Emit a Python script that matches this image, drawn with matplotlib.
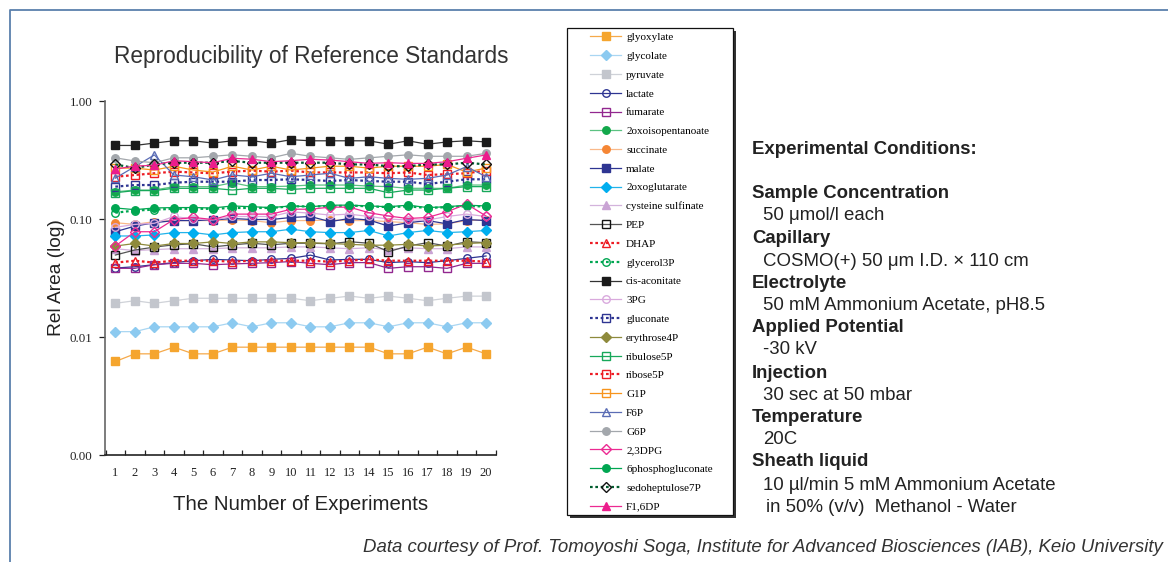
import matplotlib
matplotlib.use("Agg")
import matplotlib.pyplot as plt
import matplotlib.ticker as mticker
from matplotlib.lines import Line2D
from matplotlib.patches import Rectangle

experiments = list(range(1, 21))

glyoxylate = [0.0062, 0.0072, 0.0072, 0.0082, 0.0072, 0.0072, 0.0082, 0.0082, 0.0082, 0.0082,
              0.0082, 0.0082, 0.0082, 0.0082, 0.0072, 0.0072, 0.0082, 0.0072, 0.0082, 0.0072]
glycolate = [0.0111, 0.0111, 0.0122, 0.0122, 0.0122, 0.0122, 0.0132, 0.0122, 0.0132, 0.0132,
             0.0122, 0.0122, 0.0132, 0.0132, 0.0122, 0.0132, 0.0132, 0.0122, 0.0132, 0.0132]
pyruvate = [0.0193, 0.0203, 0.0193, 0.0203, 0.0213, 0.0213, 0.0213, 0.0213, 0.0213, 0.0213,
            0.0203, 0.0213, 0.0222, 0.0213, 0.0222, 0.0213, 0.0203, 0.0213, 0.0222, 0.0222]
lactate = [0.0384, 0.0394, 0.0410, 0.0427, 0.0443, 0.0455, 0.0449, 0.0443, 0.0455, 0.0464,
           0.0494, 0.0449, 0.0455, 0.0455, 0.0427, 0.0435, 0.0427, 0.0443, 0.0464, 0.0486]
fumarate = [0.0382, 0.0382, 0.0410, 0.0421, 0.0421, 0.0410, 0.0416, 0.0421, 0.0427, 0.0436,
            0.0421, 0.0410, 0.0427, 0.0427, 0.0382, 0.0394, 0.0394, 0.0382, 0.0421, 0.0421]
oxoisopentanoate = [0.170, 0.176, 0.176, 0.188, 0.188, 0.188, 0.203, 0.188, 0.188, 0.190,
                    0.194, 0.194, 0.194, 0.190, 0.188, 0.182, 0.182, 0.182, 0.194, 0.194]
succinate = [0.093, 0.090, 0.095, 0.097, 0.097, 0.097, 0.098, 0.097, 0.093, 0.097,
             0.097, 0.098, 0.097, 0.097, 0.095, 0.093, 0.090, 0.091, 0.097, 0.098]
malate = [0.078, 0.087, 0.093, 0.097, 0.097, 0.098, 0.101, 0.099, 0.099, 0.103,
          0.105, 0.095, 0.101, 0.098, 0.087, 0.093, 0.097, 0.091, 0.099, 0.097]
oxoglutarate = [0.0718, 0.0718, 0.0733, 0.0767, 0.0767, 0.0733, 0.0767, 0.078, 0.078, 0.082,
                0.078, 0.0767, 0.0767, 0.080, 0.0718, 0.0767, 0.080, 0.0767, 0.078, 0.080]
cysteine_sulfinate = [0.056, 0.054, 0.055, 0.056, 0.056, 0.056, 0.057, 0.057, 0.057, 0.058,
                      0.058, 0.057, 0.056, 0.057, 0.055, 0.057, 0.056, 0.056, 0.058, 0.058]
PEP = [0.0495, 0.0546, 0.0578, 0.0604, 0.0617, 0.0580, 0.0604, 0.0623, 0.0604, 0.0623,
       0.0623, 0.0617, 0.0642, 0.0623, 0.0529, 0.0590, 0.0630, 0.0590, 0.0642, 0.0630]
DHAP = [0.0427, 0.0443, 0.0427, 0.0443, 0.0443, 0.0443, 0.0435, 0.0443, 0.0443, 0.0443,
        0.0443, 0.0435, 0.0443, 0.0455, 0.0443, 0.0443, 0.0443, 0.0443, 0.0443, 0.0435]
glycerol3P = [0.113, 0.118, 0.120, 0.122, 0.122, 0.122, 0.124, 0.124, 0.124, 0.128,
              0.128, 0.128, 0.130, 0.128, 0.126, 0.128, 0.124, 0.126, 0.128, 0.128]
cis_aconitate = [0.42, 0.42, 0.44, 0.46, 0.46, 0.44, 0.46, 0.46, 0.44, 0.47,
                 0.46, 0.46, 0.46, 0.46, 0.43, 0.46, 0.43, 0.45, 0.46, 0.45]
PG3 = [0.085, 0.090, 0.092, 0.105, 0.100, 0.098, 0.105, 0.105, 0.105, 0.115,
       0.112, 0.108, 0.110, 0.105, 0.100, 0.098, 0.098, 0.105, 0.110, 0.105]
gluconate = [0.188, 0.194, 0.194, 0.203, 0.207, 0.207, 0.207, 0.214, 0.214, 0.217,
             0.214, 0.210, 0.214, 0.210, 0.207, 0.207, 0.198, 0.207, 0.217, 0.217]
erythrose4P = [0.059, 0.062, 0.059, 0.062, 0.062, 0.064, 0.062, 0.064, 0.064, 0.063,
               0.063, 0.062, 0.061, 0.060, 0.060, 0.061, 0.059, 0.060, 0.062, 0.063]
ribulose5P = [0.167, 0.174, 0.174, 0.182, 0.182, 0.182, 0.176, 0.182, 0.182, 0.178,
              0.182, 0.182, 0.182, 0.182, 0.167, 0.176, 0.176, 0.182, 0.188, 0.188]
ribose5P = [0.228, 0.236, 0.244, 0.252, 0.248, 0.244, 0.252, 0.257, 0.252, 0.257,
            0.248, 0.248, 0.248, 0.248, 0.244, 0.248, 0.236, 0.240, 0.244, 0.257]
G1P = [0.27, 0.27, 0.26, 0.28, 0.26, 0.25, 0.28, 0.26, 0.28, 0.26,
       0.27, 0.28, 0.28, 0.27, 0.28, 0.28, 0.28, 0.29, 0.25, 0.27]
F6P = [0.222, 0.278, 0.349, 0.236, 0.228, 0.214, 0.236, 0.228, 0.244, 0.228,
       0.236, 0.244, 0.221, 0.228, 0.221, 0.217, 0.221, 0.236, 0.278, 0.228]
G6P = [0.33, 0.31, 0.30, 0.33, 0.33, 0.34, 0.35, 0.34, 0.33, 0.36,
       0.34, 0.33, 0.32, 0.33, 0.34, 0.35, 0.34, 0.34, 0.34, 0.36]
DPG23 = [0.059, 0.078, 0.078, 0.099, 0.103, 0.099, 0.110, 0.110, 0.110, 0.121,
         0.121, 0.126, 0.126, 0.113, 0.106, 0.101, 0.103, 0.115, 0.134, 0.106]
phosphogluconate6 = [0.124, 0.120, 0.124, 0.125, 0.125, 0.124, 0.129, 0.127, 0.125, 0.129,
                     0.127, 0.131, 0.131, 0.129, 0.127, 0.131, 0.125, 0.127, 0.131, 0.129]
sedoheptulose7P = [0.29, 0.27, 0.29, 0.30, 0.30, 0.30, 0.31, 0.30, 0.30, 0.30,
                   0.30, 0.30, 0.29, 0.29, 0.28, 0.28, 0.29, 0.29, 0.30, 0.29]
F16DP = [0.265, 0.281, 0.285, 0.312, 0.306, 0.300, 0.327, 0.321, 0.306, 0.312,
         0.321, 0.316, 0.306, 0.296, 0.300, 0.296, 0.296, 0.306, 0.327, 0.349]

# label, data, line colour, marker, marker face, marker edge, linestyle
series = [
    ("glyoxylate", glyoxylate, "#f5a94a", "s", "#f5a52e", "#f5a52e", "-"),
    ("glycolate", glycolate, "#a9d6f2", "D", "#8ccaf0", "#8ccaf0", "-"),
    ("pyruvate", pyruvate, "#cfd2d8", "s", "#c3c6cd", "#c3c6cd", "-"),
    ("lactate", lactate, "#2e3592", "o", "none", "#2e3592", "-"),
    ("fumarate", fumarate, "#92278f", "s", "none", "#92278f", "-"),
    ("2oxoisopentanoate", oxoisopentanoate, "#5cc282", "o", "#13a84b", "#13a84b", "-"),
    ("succinate", succinate, "#f9b98a", "o", "#f58634", "#f58634", "-"),
    ("malate", malate, "#2e3592", "s", "#2e3592", "#2e3592", "-"),
    ("2oxoglutarate", oxoglutarate, "#22b3ea", "D", "#00aeef", "#00aeef", "-"),
    ("cysteine sulfinate", cysteine_sulfinate, "#d3b3dc", "^", "#c9a3d4", "#c9a3d4", "-"),
    ("PEP", PEP, "#555555", "s", "none", "#111111", "-"),
    ("DHAP", DHAP, "#ed1c24", "^", "none", "#ed1c24", ":"),
    ("glycerol3P", glycerol3P, "#00a651", "o", "none", "#00a651", ":"),
    ("cis-aconitate", cis_aconitate, "#333333", "s", "#1a1a1a", "#1a1a1a", "-"),
    ("3PG", PG3, "#d9a9dd", "o", "none", "#d9a9dd", "-"),
    ("gluconate", gluconate, "#2e3592", "s", "none", "#2e3592", ":"),
    ("erythrose4P", erythrose4P, "#8e8a3c", "D", "#8e8a3c", "#8e8a3c", "-"),
    ("ribulose5P", ribulose5P, "#17a85a", "s", "none", "#17a85a", "-"),
    ("ribose5P", ribose5P, "#ed1c24", "s", "none", "#ed1c24", ":"),
    ("G1P", G1P, "#f7941d", "s", "none", "#f7941d", "-"),
    ("F6P", F6P, "#5b6db5", "^", "none", "#5b6db5", "-"),
    ("G6P", G6P, "#a3a7ac", "o", "#a3a7ac", "#a3a7ac", "-"),
    ("2,3DPG", DPG23, "#ec2a92", "D", "none", "#ec2a92", "-"),
    ("6phosphogluconate", phosphogluconate6, "#00a651", "o", "#00a651", "#00a651", "-"),
    ("sedoheptulose7P", sedoheptulose7P, "#005c2e", "D", "none", "#111111", ":"),
    ("F1,6DP", F16DP, "#ec2a92", "^", "#ec1c8c", "#ec1c8c", "-"),
]

W, H = 1168, 562
fig = plt.figure(figsize=(W / 100, H / 100), dpi=100)
ax = fig.add_axes([105 / W, 1 - 455 / H, 391 / W, 354 / H])

handles = []
for label, data, lc, mk, mfc, mec, ls in series:
    dashed = ls == ":"
    kw = dict(color=lc, marker=mk, markerfacecolor=mfc, markeredgecolor=mec,
              markersize=5.4 if mk != "D" else 4.9, markeredgewidth=1.0,
              linewidth=1.6 if dashed else 0.9)
    kw["linestyle"] = (0, (1.2, 1.2)) if dashed else "-"
    ln, = ax.plot(experiments, data, label=label, **kw)
    handles.append(ln)

ax.set_yscale("log")
ax.set_ylim(0.001, 1.0)
ax.set_xlim(0.47, 20.51)
ax.yaxis.set_major_locator(mticker.FixedLocator([0.001, 0.01, 0.1, 1.0]))
ax.yaxis.set_major_formatter(mticker.FixedFormatter(["0.00", "0.01", "0.10", "1.00"]))
ax.yaxis.set_minor_locator(mticker.NullLocator())
ax.xaxis.set_major_locator(mticker.FixedLocator(experiments))
ax.xaxis.set_minor_locator(mticker.FixedLocator([i + 0.5 for i in range(0, 21)]))
ax.tick_params(axis="x", which="major", length=0, pad=9, labelsize=9,
               labelcolor="#222222")
ax.tick_params(axis="x", which="minor", length=3.5, direction="in", width=0.9, color="#222222")
ax.tick_params(axis="y", which="major", length=4, direction="out", width=0.9, pad=5.2,
               labelsize=9.3, labelcolor="#222222", color="#222222")
for lab in ax.get_xticklabels() + ax.get_yticklabels():
    lab.set_family(["Liberation Serif", "DejaVu Serif"])
for s in ["top", "right"]:
    ax.spines[s].set_visible(False)
ax.spines["left"].set_color("#666666")
ax.spines["bottom"].set_color("#222222")
ax.spines["left"].set_linewidth(1.2)
ax.spines["bottom"].set_linewidth(1.2)

ax.set_ylabel("Rel Area (log)", fontsize=13.8, family="Liberation Sans", color="#222222",
              labelpad=3)
ax.set_xlabel("The Number of Experiments", fontsize=14.7, family="Liberation Sans",
              color="#222222", labelpad=11.5)
fig.text(311 / W, 1 - 56 / H, "Reproducibility of Reference Standards", fontsize=16.3,
         family="Liberation Sans", color="#333333", ha="center", va="center")

# Legend box (drawn as a patch with a dark drop shadow), legend entries inside
box_l, box_t, box_r, box_b = 567, 28, 733, 515
fig.add_artist(Rectangle(((box_l + 2.5) / W, 1 - (box_b + 2.5) / H),
                         (box_r - box_l) / W, (box_b - box_t) / H,
                         transform=fig.transFigure, facecolor="#333333",
                         edgecolor="none", zorder=1))
fig.add_artist(Rectangle((box_l / W, 1 - box_b / H), (box_r - box_l) / W,
                         (box_b - box_t) / H, transform=fig.transFigure,
                         facecolor="white", edgecolor="#111111", linewidth=0.9, zorder=2))

leg = fig.legend(handles=handles, loc="upper left",
                 bbox_to_anchor=(590 / W, 1 - 32.5 / H), frameon=False,
                 prop={"family": ["Liberation Serif", "DejaVu Serif"], "size": 8},
                 labelspacing=0.81, handlelength=2.8, handletextpad=0.45,
                 borderpad=0, borderaxespad=0, markerscale=1.0)
leg.set_zorder(3)

# Experimental conditions text
sans = "Liberation Sans"
lines = [
    ("Experimental Conditions:", True, 752, 150),
    ("Sample Concentration", True, 752, 193),
    ("50 μmol/l each", False, 763, 216),
    ("Capillary", True, 752, 238),
    ("COSMO(+) 50 μm I.D. × 110 cm", False, 763, 261),
    ("Electrolyte", True, 752, 283),
    ("50 mM Ammonium Acetate, pH8.5", False, 763, 305),
    ("Applied Potential", True, 752, 328),
    ("-30 kV", False, 763, 350),
    ("Injection", True, 752, 373),
    ("30 sec at 50 mbar", False, 763, 395),
    ("Temperature", True, 752, 417),
    ("20C", False, 763, 439),
    ("Sheath liquid", True, 752, 462),
    ("10 µl/min 5 mM Ammonium Acetate", False, 763, 485),
    ("in 50% (v/v)  Methanol - Water", False, 766, 507),
]
for txt, bold, x, y in lines:
    fig.text(x / W, 1 - y / H, txt, fontsize=13.4, family=sans,
             fontweight="bold" if bold else "normal", color="#222222",
             ha="left", va="center")

fig.text(1163 / W, 1 - 548 / H,
         "Data courtesy of Prof. Tomoyoshi Soga, Institute for Advanced Biosciences (IAB), Keio University",
         fontsize=13.45, family=sans, style="italic", color="#333333", ha="right", va="center")

# Blue page border (top and left)
fig.add_artist(Line2D([10 / W, 10 / W, 1.0], [0.0, 1 - 10 / H, 1 - 10 / H],
                      transform=fig.transFigure, color="#5b80ad", linewidth=1.3))

fig.savefig("out.png", dpi=100)
